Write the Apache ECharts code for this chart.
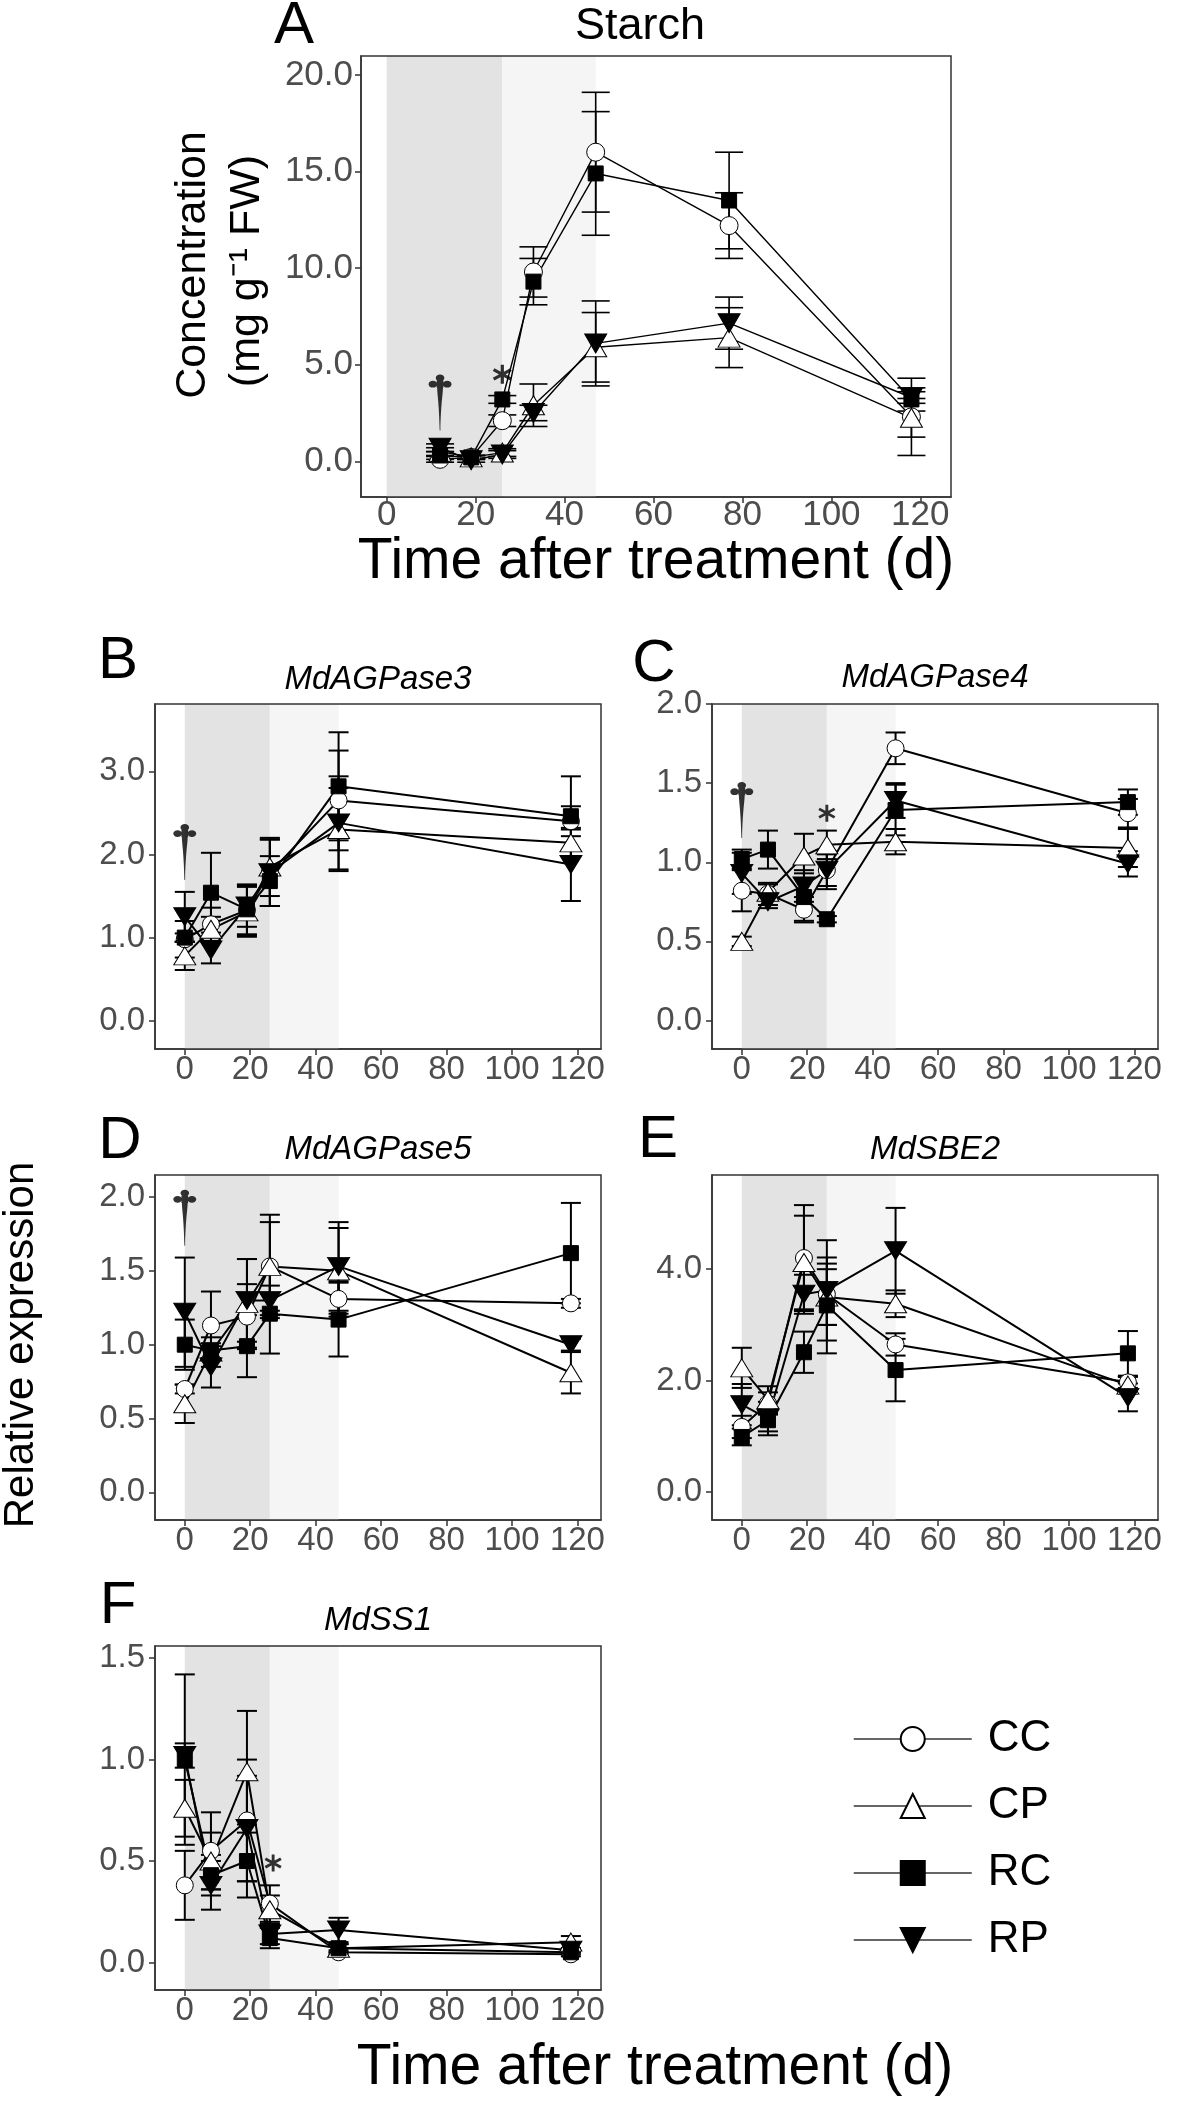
<!DOCTYPE html>
<html><head><meta charset="utf-8">
<script src="https://cdn.jsdelivr.net/npm/echarts@6/dist/echarts.min.js"></script>
<style>html,body{margin:0;padding:0;background:#fff}#c{width:1181px;height:2103px}</style>
</head><body><div id="c"></div>
<script>
// ---------------- DATA ----------------
const GROUP_NAMES = ['CC', 'CP', 'RC', 'RP'];
const X_TICKS = [0, 20, 40, 60, 80, 100, 120];
const SHADE_DARK = [0, 26];
const SHADE_LIGHT = [26, 47];

// Panel A: Starch (mg g-1 FW)
const X_STARCH = [12, 19, 26, 33, 47, 77, 118];
const A_CC = [0.1, 0.2, 2.1, 9.8, 16.0, 12.2, 2.3];
const A_CC_SE = [0.15, 0.1, 0.3, 1.3, 3.1, 1.7, 2.0];
const A_CP = [0.5, 0.2, 0.45, 2.9, 5.9, 6.4, 2.25];
const A_CP_SE = [0.2, 0.1, 0.2, 1.1, 1.8, 1.55, 1.0];
const A_RC = [0.3, 0.2, 3.2, 9.3, 14.9, 13.5, 3.2];
const A_RC_SE = [0.2, 0.1, 0.2, 1.2, 3.2, 2.5, 0.6];
const A_RP = [0.7, 0.05, 0.35, 2.5, 6.1, 7.15, 3.3];
const A_RP_SE = [0.2, 0.1, 0.2, 0.4, 2.2, 1.35, 0.3];
const A_Y_TICKS = [0, 5, 10, 15, 20];

// Gene panels: relative expression
const X_GENE = [0, 8, 19, 26, 47, 118];
// B MdAGPase3
const B_CC = [0.98, 1.16, 1.33, 1.78, 2.65, 2.40];
const B_CC_SE = [0.22, 0.2, 0.3, 0.4, 0.6, 0.18];
const B_CP = [0.78, 1.10, 1.31, 1.85, 2.30, 2.14];
const B_CP_SE = [0.17, 0.15, 0.3, 0.35, 0.5, 0.16];
const B_RC = [1.00, 1.54, 1.34, 1.68, 2.82, 2.46];
const B_RC_SE = [0.05, 0.48, 0.3, 0.3, 0.65, 0.48];
const B_RP = [1.25, 0.85, 1.38, 1.78, 2.38, 1.88];
const B_RP_SE = [0.3, 0.16, 0.25, 0.4, 0.56, 0.44];
const B_Y_TICKS = [0, 1, 2, 3];
// C MdAGPase4
const C_CC = [0.82, 0.80, 0.70, 0.95, 1.72, 1.31];
const C_CC_SE = [0.13, 0.07, 0.08, 0.12, 0.1, 0.09];
const C_CP = [0.50, 0.81, 1.04, 1.11, 1.13, 1.09];
const C_CP_SE = [0.03, 0.05, 0.14, 0.09, 0.08, 0.12];
const C_RC = [1.02, 1.08, 0.78, 0.64, 1.33, 1.38];
const C_RC_SE = [0.06, 0.12, 0.15, 0.02, 0.16, 0.08];
const C_RP = [0.93, 0.75, 0.85, 0.95, 1.39, 0.99];
const C_RP_SE = [0.13, 0.04, 0.1, 0.1, 0.11, 0.08];
const C_Y_TICKS = [0, 0.5, 1, 1.5, 2];
// D MdAGPase5
const D_CC = [0.70, 1.13, 1.19, 1.53, 1.31, 1.28];
const D_CC_SE = [0.03, 0.23, 0.22, 0.3, 0.12, 0.03];
const D_CP = [0.60, 0.95, 1.28, 1.53, 1.50, 0.81];
const D_CP_SE = [0.13, 0.1, 0.3, 0.35, 0.29, 0.14];
const D_RC = [1.00, 0.96, 0.99, 1.21, 1.17, 1.62];
const D_RC_SE = [0.17, 0.05, 0.21, 0.27, 0.25, 0.34];
const D_RP = [1.22, 0.85, 1.30, 1.30, 1.53, 1.00];
const D_RP_SE = [0.37, 0.14, 0.28, 0.1, 0.3, 0.04];
const D_Y_TICKS = [0, 0.5, 1, 1.5, 2];
// E MdSBE2
const E_CC = [1.17, 1.59, 4.20, 3.55, 2.65, 1.97];
const E_CC_SE = [0.2, 0.2, 0.95, 0.55, 0.2, 0.1];
const E_CP = [2.23, 1.66, 4.12, 3.50, 3.38, 1.92];
const E_CP_SE = [0.36, 0.24, 0.84, 0.5, 0.24, 0.15];
const E_RC = [0.99, 1.29, 2.51, 3.35, 2.19, 2.49];
const E_RC_SE = [0.15, 0.2, 0.37, 0.86, 0.56, 0.4];
const E_RP = [1.57, 1.32, 3.55, 3.62, 4.33, 1.70];
const E_RP_SE = [0.37, 0.3, 0.35, 0.9, 0.77, 0.25];
const E_Y_TICKS = [0, 2, 4];
// F MdSS1
const F_CC = [0.38, 0.55, 0.70, 0.29, 0.05, 0.04];
const F_CC_SE = [0.17, 0.19, 0.3, 0.09, 0.01, 0.01];
const F_CP = [0.76, 0.50, 0.94, 0.26, 0.07, 0.10];
const F_CP_SE = [0.14, 0.14, 0.3, 0.07, 0.02, 0.03];
const F_RC = [1.00, 0.43, 0.50, 0.12, 0.07, 0.05];
const F_RC_SE = [0.42, 0.1, 0.18, 0.05, 0.02, 0.01];
const F_RP = [1.02, 0.38, 0.66, 0.14, 0.16, 0.06];
const F_RP_SE = [0.06, 0.12, 0.26, 0.05, 0.06, 0.01];
const F_Y_TICKS = [0, 0.5, 1, 1.5];

// annotation positions (data coords)
const DAGGER_A = [[12, 3.04]];
const DAGGER_B = [[0, 2.03]];
const DAGGER_C = [[0, 1.33]];
const DAGGER_D = [[0, 1.86]];
const STAR_A = [[26, 4.5]];
const STAR_C = [[26, 1.31]];
const STAR_F = [[27, 0.49]];

// ---------------- LAYOUT ----------------
const FONT = 'Liberation Sans, Arial, Helvetica, sans-serif';
const PANELS = [
  {grid:{left:361, top:56, width:590, height:441}, xr:[-5.78, 126.9], yr:[-1.85, 20.98], yt:A_Y_TICKS, xs:X_STARCH,
   g:[[A_CC,A_CC_SE],[A_CP,A_CP_SE],[A_RC,A_RC_SE],[A_RP,A_RP_SE]], big:true, dag:DAGGER_A, star:STAR_A},
  {grid:{left:155, top:704, width:446, height:345}, xr:[-9.1, 127.2], yr:[-0.34, 3.81], yt:B_Y_TICKS, xs:X_GENE,
   g:[[B_CC,B_CC_SE],[B_CP,B_CP_SE],[B_RC,B_RC_SE],[B_RP,B_RP_SE]], dag:DAGGER_B},
  {grid:{left:712, top:704, width:446, height:345}, xr:[-9.1, 127.2], yr:[-0.18, 2.0], yt:C_Y_TICKS, xs:X_GENE,
   g:[[C_CC,C_CC_SE],[C_CP,C_CP_SE],[C_RC,C_RC_SE],[C_RP,C_RP_SE]], dag:DAGGER_C, star:STAR_C},
  {grid:{left:155, top:1175, width:446, height:345}, xr:[-9.1, 127.2], yr:[-0.187, 2.149], yt:D_Y_TICKS, xs:X_GENE,
   g:[[D_CC,D_CC_SE],[D_CP,D_CP_SE],[D_RC,D_RC_SE],[D_RP,D_RP_SE]], dag:DAGGER_D},
  {grid:{left:712, top:1175, width:446, height:345}, xr:[-9.1, 127.2], yr:[-0.5, 5.69], yt:E_Y_TICKS, xs:X_GENE,
   g:[[E_CC,E_CC_SE],[E_CP,E_CP_SE],[E_RC,E_RC_SE],[E_RP,E_RP_SE]]},
  {grid:{left:155, top:1646, width:446, height:344}, xr:[-9.1, 127.2], yr:[-0.136, 1.56], yt:F_Y_TICKS, xs:X_GENE,
   g:[[F_CC,F_CC_SE],[F_CP,F_CP_SE],[F_RC,F_RC_SE],[F_RP,F_RP_SE]], star:STAR_F}
];

const STYLE = [
  {symbol:'circle', fill:'#fff', rot:0, sizeA:18, sizeG:17},
  {symbol:'triangle', fill:'#fff', rot:0, sizeA:[22,19], sizeG:[22,18]},
  {symbol:'rect', fill:'#000', rot:0, sizeA:15, sizeG:15},
  {symbol:'triangle', fill:'#000', rot:180, sizeA:[22,19], sizeG:[22,18]}
];

const DAGGER_PATH = 'path://M50,4C60,4 68,12 68,22C68,32 60,40 50,40C40,40 32,32 32,22C32,12 40,4 50,4Z M20,37C30,37 38,45 38,55C38,65 30,73 20,73C10,73 2,65 2,55C2,45 10,37 20,37Z M80,37C90,37 98,45 98,55C98,65 90,73 80,73C70,73 62,65 62,55C62,45 70,37 80,37Z M36,36L64,36L64,74L36,74Z M62,72C62,110 54,150 51.5,300L48.5,300C46,150 38,110 38,72Z';
const STAR_PATH = 'path://M42,0L58,0L58,100L42,100Z M89.3,18.1L97.3,31.9L10.7,81.9L2.7,68.1Z M2.7,31.9L10.7,18.1L97.3,68.1L89.3,81.9Z';

function errRender(capW, lw) {
  return function (params, api) {
    const x = api.value(0), lo = api.value(1), hi = api.value(2);
    const a = api.coord([x, lo]), b = api.coord([x, hi]);
    const h = capW / 2;
    const st = {stroke:'#000', lineWidth:lw};
    return {type:'group', children:[
      {type:'line', shape:{x1:a[0], y1:a[1], x2:b[0], y2:b[1]}, style:st},
      {type:'line', shape:{x1:a[0]-h, y1:a[1], x2:a[0]+h, y2:a[1]}, style:st},
      {type:'line', shape:{x1:b[0]-h, y1:b[1], x2:b[0]+h, y2:b[1]}, style:st}
    ]};
  };
}

const grids = [], xAxes = [], yAxes = [], series = [];
PANELS.forEach((p, i) => {
  grids.push(Object.assign({show:true, borderColor:'#333', borderWidth:1.5, z:10, containLabel:false}, p.grid));
  const fs = p.big ? 35 : 33;
  xAxes.push({type:'value', gridIndex:i, min:p.xr[0], max:p.xr[1],
    axisLine:{show:true, onZero:false, lineStyle:{color:'#333', width:1.5}},
    splitLine:{show:false},
    axisTick:{show:true, length:6, customValues:X_TICKS, lineStyle:{color:'#333', width:1.5}},
    axisLabel:{customValues:X_TICKS, fontSize:fs, color:'#4d4d4d', fontFamily:FONT, margin:p.big?1:4,
      formatter:v => String(Math.round(v))}});
  yAxes.push({type:'value', gridIndex:i, min:p.yr[0], max:p.yr[1],
    axisLine:{show:true, onZero:false, lineStyle:{color:'#333', width:1.5}},
    splitLine:{show:false},
    axisTick:{show:true, length:6, customValues:p.yt, lineStyle:{color:'#333', width:1.5}},
    axisLabel:{customValues:p.yt, fontSize:fs, color:'#4d4d4d', fontFamily:FONT, margin:p.big?8:10,
      formatter:v => v.toFixed(1)}});
  const lw = p.big ? 1.4 : 2;
  // lines
  p.g.forEach((gv, k) => {
    const s = STYLE[k];
    const line = {type:'line', name:GROUP_NAMES[k], xAxisIndex:i, yAxisIndex:i, z:2, silent:true,
      showSymbol:false, symbol:s.symbol, symbolRotate:s.rot, symbolSize:p.big?s.sizeA:s.sizeG,
      itemStyle:{color:s.fill, borderColor:'#000', borderWidth:1},
      lineStyle:{color:'#000', width:lw}, animation:false,
      data:p.xs.map((x, j) => [x, gv[0][j]])};
    if (k === 0) {
      line.markArea = {silent:true, z:1, data:[
        [{xAxis:SHADE_DARK[0], itemStyle:{color:'#e3e3e3'}}, {xAxis:SHADE_DARK[1]}],
        [{xAxis:SHADE_LIGHT[0], itemStyle:{color:'#f5f5f5'}}, {xAxis:SHADE_LIGHT[1]}]
      ]};
    }
    series.push(line);
  });
  // error bars
  p.g.forEach((gv, k) => {
    series.push({type:'custom', name:GROUP_NAMES[k] + ' SE', xAxisIndex:i, yAxisIndex:i, z:3, silent:true,
      animation:false, renderItem:errRender(p.big ? 28 : 20, p.big ? 1.6 : 2),
      data:p.xs.map((x, j) => [x, gv[0][j] - gv[1][j], gv[0][j] + gv[1][j]])});
  });
  // points
  p.g.forEach((gv, k) => {
    const s = STYLE[k];
    series.push({type:'scatter', name:GROUP_NAMES[k], xAxisIndex:i, yAxisIndex:i, z:4, silent:true,
      symbol:s.symbol, symbolRotate:s.rot, symbolSize:p.big?s.sizeA:s.sizeG, animation:false,
      itemStyle:{color:s.fill, borderColor:'#000', borderWidth:1, opacity:1},
      data:p.xs.map((x, j) => [x, gv[0][j]])});
  });
  if (p.dag) series.push({type:'scatter', xAxisIndex:i, yAxisIndex:i, z:5, silent:true, animation:false,
    symbol:DAGGER_PATH, symbolSize:[23, 56], itemStyle:{color:'#000'}, data:p.dag});
  if (p.star) series.push({type:'scatter', xAxisIndex:i, yAxisIndex:i, z:5, silent:true, animation:false,
    symbol:STAR_PATH, symbolSize:p.big ? 19 : 17, itemStyle:{color:'#000'}, data:p.star});
});

function txt(t, x, y, size, opts) {
  opts = opts || {};
  return {type:'text', x:x, y:y, rotation:opts.rot || 0, silent:true, z:20,
    style:{text:t, fill:'#000', font:(opts.italic ? 'italic ' : '') + 'normal ' + size + 'px ' + FONT,
      align:'center', verticalAlign:'middle'}};
}

const graphics = [
  txt('A', 294, 26, 60),
  txt('Starch', 640, 27, 45),
  txt('Concentration', 193, 265, 43, {rot:Math.PI/2}),
  txt('(mg g\u207B\u00B9 FW)', 247, 271, 43, {rot:Math.PI/2}),
  txt('Time after treatment (d)', 656, 562, 57),
  txt('B', 118, 661, 60), txt('MdAGPase3', 378, 680, 33, {italic:true}),
  txt('C', 654, 664, 60), txt('MdAGPase4', 935, 678, 33, {italic:true}),
  txt('D', 120, 1141, 60), txt('MdAGPase5', 378, 1150, 33, {italic:true}),
  txt('E', 658, 1140, 60), txt('MdSBE2', 935, 1150, 33, {italic:true}),
  txt('F', 118, 1606, 60), txt('MdSS1', 378, 1621, 33, {italic:true}),
  txt('Relative expression', 21, 1345, 42, {rot:Math.PI/2}),
  txt('Time after treatment (d)', 655, 2068, 57)
];

const chart = echarts.init(document.getElementById('c'), null, {renderer:'canvas', width:1181, height:2103});
chart.setOption({
  animation:false,
  backgroundColor:'#fff',
  grid:grids, xAxis:xAxes, yAxis:yAxes, series:series,
  legend:{data:GROUP_NAMES, orient:'vertical', left:848, top:1712, itemWidth:118, itemHeight:30, itemGap:23,
    selectedMode:false,
    textStyle:{fontSize:44, color:'#000', fontFamily:FONT, padding:[0,0,0,11]},
    lineStyle:{color:'#333', width:1.5}},
  graphic:graphics
});
</script>
</body></html>
